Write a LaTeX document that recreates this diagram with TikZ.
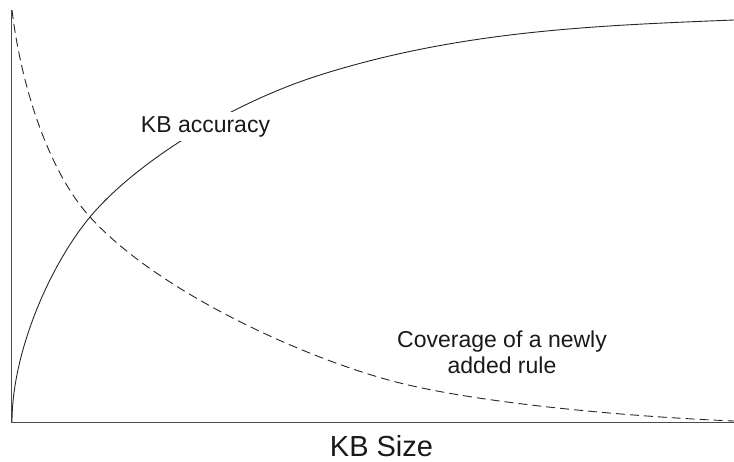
\documentclass[tikz,border=0pt]{standalone}
\usepackage{fontspec}
\setmainfont{Liberation Sans}
\usepackage{tikz}

\begin{document}
\begin{tikzpicture}[x={(1pt,0)}, y={(0,-1pt)},
  axis/.style={line width=1.4pt, black!70},
  curve/.style={line width=0.9pt, black!85},
  lbl/.style={font=\fontsize{23}{26}\selectfont, text=black!90, inner sep=0pt}]

\useasboundingbox (0,0) rectangle (734,461);

\coordinate (top) at (11.5,10);
\coordinate (origin) at (11.5,422.5);
\coordinate (right) at (734,422.5);

\draw[axis] (top) -- (origin) -- (right);

% KB accuracy
\draw[curve] (12,422) .. controls (12,352) and (50,265) .. (90,217)
  .. controls (135,163) and (230,103.4) .. (320,75)
  .. controls (460,30.8) and (594,25.6) .. (734,20);

% coverage of a new rule
\draw[curve, dash pattern=on 9pt off 5pt] (12,10) .. controls (21.6,90) and (50,173) .. (90,217)
  .. controls (160,294) and (310,360.5) .. (400,383)
  .. controls (480,403) and (624,416.5) .. (734,421);

\node[lbl, anchor=base, fill=white, inner sep=4pt] (acc) at (205.5,132) {KB accuracy};
\node[lbl, align=center] (cov) at (502,352) {Coverage of a newly\\added rule};
\node[lbl, anchor=base, font=\fontsize{29}{34}\selectfont] (size) at (381.5,456.5) {KB Size};

\end{tikzpicture}
\end{document}
